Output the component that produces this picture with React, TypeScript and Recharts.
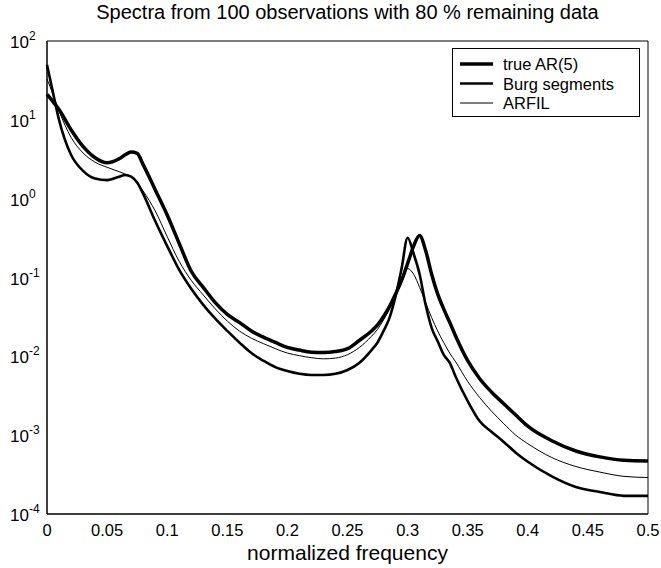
import { LineChart, Line, XAxis, YAxis, Legend, ReferenceArea } from 'recharts';

// normalized frequency grid (denser around the resonance near 0.3)
const FREQ = [0, 0.005, 0.01, 0.02, 0.03, 0.04, 0.05, 0.06, 0.065, 0.07, 0.075, 0.08, 0.09, 0.1, 0.11, 0.12, 0.13, 0.14, 0.15, 0.16, 0.17, 0.18, 0.19, 0.2, 0.21, 0.22, 0.23, 0.24, 0.25, 0.26, 0.27, 0.275, 0.28, 0.285, 0.29, 0.295, 0.3, 0.305, 0.31, 0.315, 0.32, 0.325, 0.33, 0.335, 0.34, 0.35, 0.36, 0.37, 0.38, 0.39, 0.4, 0.42, 0.44, 0.46, 0.48, 0.5];

const TRUE_AR5 = [21, 17, 13.5, 7.5, 4.6, 3.3, 2.85, 3.2, 3.6, 3.9, 3.75, 2.7, 1.3, 0.62, 0.27, 0.12, 0.075, 0.048, 0.034, 0.027, 0.021, 0.0175, 0.015, 0.013, 0.012, 0.0113, 0.0112, 0.0115, 0.0125, 0.016, 0.021, 0.025, 0.032, 0.043, 0.062, 0.092, 0.15, 0.25, 0.34, 0.22, 0.11, 0.062, 0.04, 0.027, 0.018, 0.0088, 0.0052, 0.0035, 0.0025, 0.0018, 0.0013, 0.00085, 0.00063, 0.00053, 0.00048, 0.00047];

const BURG = [50, 22, 10, 3.6, 2.25, 1.8, 1.72, 1.9, 2.0, 1.9, 1.6, 1.15, 0.52, 0.25, 0.125, 0.072, 0.045, 0.03, 0.021, 0.015, 0.011, 0.0088, 0.0073, 0.0065, 0.006, 0.0058, 0.0058, 0.006, 0.0067, 0.0083, 0.012, 0.015, 0.021, 0.031, 0.058, 0.13, 0.32, 0.2, 0.11, 0.045, 0.023, 0.0155, 0.0105, 0.0083, 0.0055, 0.0027, 0.0015, 0.0011, 0.00082, 0.0006, 0.00046, 0.0003, 0.00022, 0.00019, 0.00017, 0.00017];

const ARFIL = [33, 21, 13, 6, 3.8, 2.9, 2.5, 2.2, 2.05, 1.9, 1.6, 1.25, 0.7, 0.33, 0.16, 0.092, 0.06, 0.04, 0.028, 0.021, 0.017, 0.0145, 0.0125, 0.011, 0.0102, 0.0096, 0.0093, 0.0095, 0.0105, 0.013, 0.018, 0.022, 0.029, 0.04, 0.057, 0.088, 0.13, 0.11, 0.075, 0.048, 0.031, 0.021, 0.015, 0.011, 0.0085, 0.0048, 0.003, 0.002, 0.0014, 0.001, 0.00078, 0.00052, 0.0004, 0.00034, 0.0003, 0.00029];

const SERIES_ORDER = ['true AR(5)', 'Burg segments', 'ARFIL'];
const X_TICKS = [0, 0.05, 0.1, 0.15, 0.2, 0.25, 0.3, 0.35, 0.4, 0.45, 0.5];
const Y_TICKS = [0.0001, 0.001, 0.01, 0.1, 1, 10, 100];

const data = FREQ.map((f, i) => ({ f, trueAR: TRUE_AR5[i], burg: BURG[i], arfil: ARFIL[i] }));

const FONT = '"Liberation Sans", Arial, Helvetica, sans-serif';
const Y_DOMAIN: [number, number] = [0.0001, 100];
const X_DOMAIN: [number, number] = [0, 0.5];

function PowTick({ x, y, payload }: any) {
  const e = Math.round(Math.log10(payload.value));
  return (
    <text x={x - 32} y={y + 7} fontSize={17} fontFamily={FONT} fill="#000">
      10<tspan dy={-8} fontSize={12}>{e}</tspan>
    </text>
  );
}

function LegendBox({ payload }: any) {
  const items = (payload || [])
    .filter((p: any) => SERIES_ORDER.includes(p.value))
    .sort((a: any, b: any) => SERIES_ORDER.indexOf(a.value) - SERIES_ORDER.indexOf(b.value));
  return (
    <svg width={188} height={69} style={{ display: 'block' }}>
      <rect x={0.5} y={0.5} width={187} height={68} fill="#fff" stroke="#000" />
      {items.map((p: any, i: number) => {
        const cy = 16 + i * 19.5;
        return (
          <g key={p.value}>
            <line x1={8} x2={41} y1={cy} y2={cy} stroke="#000" strokeWidth={p.payload?.strokeWidth ?? 1} />
            <text x={51} y={cy + 6} fontSize={16.5} fontFamily={FONT} fill="#000">{p.value}</text>
          </g>
        );
      })}
    </svg>
  );
}

export default function App() {
  return (
    <div style={{ position: 'absolute', left: 0, top: 0, width: 661, height: 568, background: '#fff' }}>
      <div style={{ position: 'absolute', left: 47, width: 601, top: 0, textAlign: 'center', fontFamily: FONT, fontSize: 20, lineHeight: '24px', color: '#000', zIndex: 2 }}>
        Spectra from 100 observations with 80 % remaining data
      </div>
      <LineChart width={661} height={568} data={data} margin={{ top: 41, right: 13, bottom: 24, left: 7 }}>
        <XAxis xAxisId="b" dataKey="f" type="number" domain={X_DOMAIN} ticks={X_TICKS} height={30}
          tickLine={false} tickSize={0} tickMargin={10} interval={0}
          axisLine={{ stroke: '#000' }} tick={{ fontSize: 16.5, fontFamily: FONT, fill: '#000' }}
          label={{ value: 'normalized frequency', position: 'bottom', offset: 1, fontSize: 21, fontFamily: FONT, fill: '#000' }} />
        <YAxis yAxisId="l" type="number" scale="log" domain={Y_DOMAIN} ticks={Y_TICKS} width={40} allowDataOverflow interval={0}
          tickLine={false} tickSize={0} tickMargin={5} tick={<PowTick />} axisLine={{ stroke: '#000' }} />
        {/* plot box frame */}
        <ReferenceArea xAxisId="b" yAxisId="l" x1={0} x2={0.5} y1={0.0001} y2={100} fill="none" fillOpacity={0}
          stroke="#000" strokeWidth={1} ifOverflow="visible" />
        <Legend layout="vertical" align="center" verticalAlign="middle" content={<LegendBox />}
          wrapperStyle={{ left: 452, top: 48, width: 188, height: 69 }} />
        <Line xAxisId="b" yAxisId="l" dataKey="trueAR" name="true AR(5)" type="monotone" stroke="#000" strokeWidth={3.5} dot={false} isAnimationActive={false} />
        <Line xAxisId="b" yAxisId="l" dataKey="burg" name="Burg segments" type="monotone" stroke="#000" strokeWidth={2.6} dot={false} isAnimationActive={false} />
        <Line xAxisId="b" yAxisId="l" dataKey="arfil" name="ARFIL" type="monotone" stroke="#000" strokeWidth={1} dot={false} isAnimationActive={false} />
      </LineChart>
    </div>
  );
}
